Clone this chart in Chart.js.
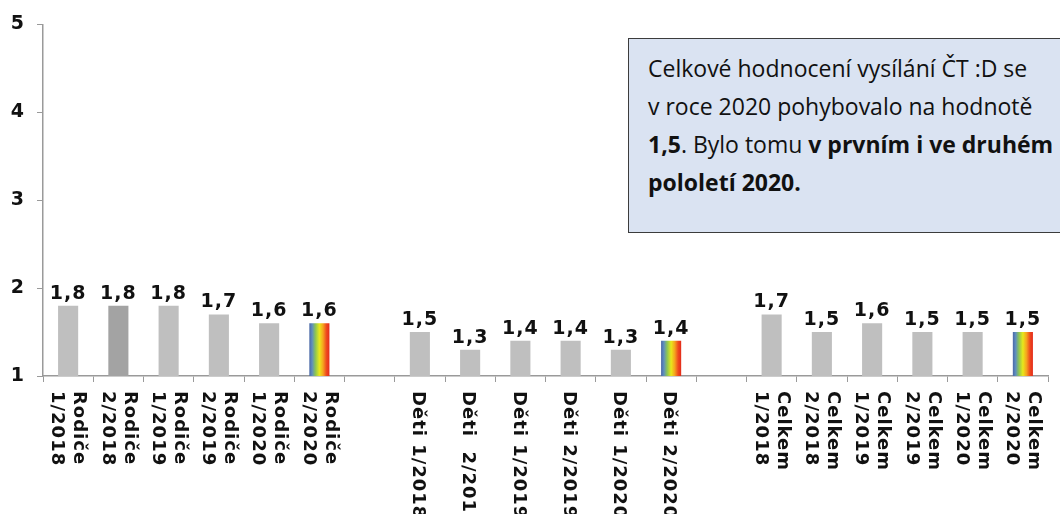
<!DOCTYPE html>
<html>
<head>
<meta charset="utf-8">
<script src="https://cdn.jsdelivr.net/npm/chart.js@4/dist/chart.umd.min.js"></script>
<style>
  html, body { margin: 0; padding: 0; background: #fff; }
  #wrap { position: relative; width: 1060px; height: 514px; overflow: hidden; }
  #note {
    position: absolute; left: 628px; top: 38px; width: 440px; height: 195px;
    box-sizing: border-box; padding: 10px 0 0 19px;
    background: #dae3f2; border: 1.5px solid #3c3c3c;
    font-family: "Open Sans", sans-serif; font-size: 23px; line-height: 38px;
    color: #111; white-space: nowrap;
  }
  #note b { font-weight: 700; }
</style>
</head>
<body>
<div id="wrap">
  <canvas id="chart" width="1060" height="514"></canvas>
  <div id="note">Celkové hodnocení vysílání ČT :D se<br>v roce 2020 pohybovalo na hodnotě<br><b>1,5</b>. Bylo tomu <b>v prvním i ve druhém</b><br><b>pololetí 2020.</b></div>
</div>
<script>
// groups of half-year ratings, an empty slot separates the groups
const rodiceLabels = [['Rodiče', '1/2018'], ['Rodiče', '2/2018'], ['Rodiče', '1/2019'], ['Rodiče', '2/2019'], ['Rodiče', '1/2020'], ['Rodiče', '2/2020']];
const detiLabels = [['Děti 1/2018'], ['Děti  2/2018'], ['Děti 1/2019'], ['Děti 2/2019'], ['Děti 1/2020'], ['Děti 2/2020']];
const celkemLabels = [['Celkem', '1/2018'], ['Celkem', '2/2018'], ['Celkem', '1/2019'], ['Celkem', '2/2019'], ['Celkem', '1/2020'], ['Celkem', '2/2020']];

const rodiceValues = [1.8, 1.8, 1.8, 1.7, 1.6, 1.6];
const detiValues = [1.5, 1.3, 1.4, 1.4, 1.3, 1.4];
const celkemValues = [1.7, 1.5, 1.6, 1.5, 1.5, 1.5];

const yTicks = [1, 2, 3, 4, 5];

const labels = [...rodiceLabels, [''], ...detiLabels, [''], ...celkemLabels];
const values = [...rodiceValues, null, ...detiValues, null, ...celkemValues];
const rainbowIdx = [5, 12, 19];   // last half-year of each group
const darkIdx = [1];

const GRAY = '#bfbfbf';
const DARK = '#a3a3a3';
const BAR_PCT = 0.4;

function rainbow(c) {
  const chart = c.chart, xs = chart.scales.x;
  if (!xs || !chart.chartArea) return GRAY;
  const cx = xs.getPixelForValue(c.dataIndex);
  const w = xs.width / labels.length * BAR_PCT;
  const g = chart.ctx.createLinearGradient(cx - w / 2, 0, cx + w / 2, 0);
  g.addColorStop(0, '#4a68a6');
  g.addColorStop(0.14, '#5f8fbf');
  g.addColorStop(0.3, '#8cc454');
  g.addColorStop(0.5, '#e8e81a');
  g.addColorStop(0.68, '#f5a41e');
  g.addColorStop(0.85, '#ef4a1e');
  g.addColorStop(1, '#e32a1a');
  return g;
}

const valueLabels = {
  id: 'valueLabels',
  afterDatasetsDraw(chart) {
    const ctx = chart.ctx;
    const meta = chart.getDatasetMeta(0);
    ctx.save();
    ctx.font = 'bold 19px "DejaVu Sans"';
    ctx.letterSpacing = '1px';
    ctx.fillStyle = '#111';
    ctx.textAlign = 'center';
    ctx.textBaseline = 'alphabetic';
    meta.data.forEach((el, i) => {
      if (values[i] == null) return;
      ctx.fillText(values[i].toFixed(1).replace('.', ','), el.x, el.y - 7);
    });
    ctx.restore();
  }
};

// category labels read top to bottom (rotated clockwise)
const sideLabels = {
  id: 'sideLabels',
  afterDraw(chart) {
    const ctx = chart.ctx, xs = chart.scales.x;
    const top = xs.top + 15;
    ctx.save();
    ctx.font = 'bold 18px "DejaVu Sans"';
    ctx.letterSpacing = '1px';
    ctx.fillStyle = '#111';
    ctx.textAlign = 'left';
    ctx.textBaseline = 'middle';
    labels.forEach((lines, i) => {
      const x = xs.getPixelForValue(i);
      ctx.save();
      ctx.translate(x, top);
      ctx.rotate(Math.PI / 2);
      if (lines.length === 2) {
        ctx.fillText(lines[0], 0, -11);
        ctx.fillText(lines[1], 0, 11);
      } else {
        ctx.fillText(lines[0], 0, 2);
      }
      ctx.restore();
    });
    ctx.restore();
  }
};

new Chart(document.getElementById('chart'), {
  type: 'bar',
  data: {
    labels,
    datasets: [{
      data: values,
      backgroundColor: c => rainbowIdx.includes(c.dataIndex) ? rainbow(c) : (darkIdx.includes(c.dataIndex) ? DARK : GRAY),
      borderWidth: 0,
      barPercentage: BAR_PCT,
      categoryPercentage: 1.0,
    }],
  },
  options: {
    responsive: false,
    animation: false,
    layout: { padding: { top: 24, right: 12, left: 0, bottom: 0 } },
    plugins: { legend: { display: false }, tooltip: { enabled: false } },
    scales: {
      x: {
        ticks: { display: false },
        grid: { drawOnChartArea: false, drawTicks: true, tickLength: 6, color: '#9a9a9a', offset: true },
        border: { display: true, color: '#9a9a9a', width: 1.5 },
        afterFit: s => { s.height = 138; },
      },
      y: {
        min: 1, max: 5,
        afterBuildTicks: s => { s.ticks = yTicks.map(v => ({ value: v })); },
        ticks: { color: '#111', font: { family: 'DejaVu Sans', weight: 'bold', size: 19 }, padding: 13 },
        grid: { drawOnChartArea: false, drawTicks: true, tickLength: 6, color: '#9a9a9a' },
        border: { display: true, color: '#9a9a9a', width: 1.5 },
        afterFit: s => { s.width = 43; },
      },
    },
  },
  plugins: [valueLabels, sideLabels],
});
</script>
</body>
</html>
